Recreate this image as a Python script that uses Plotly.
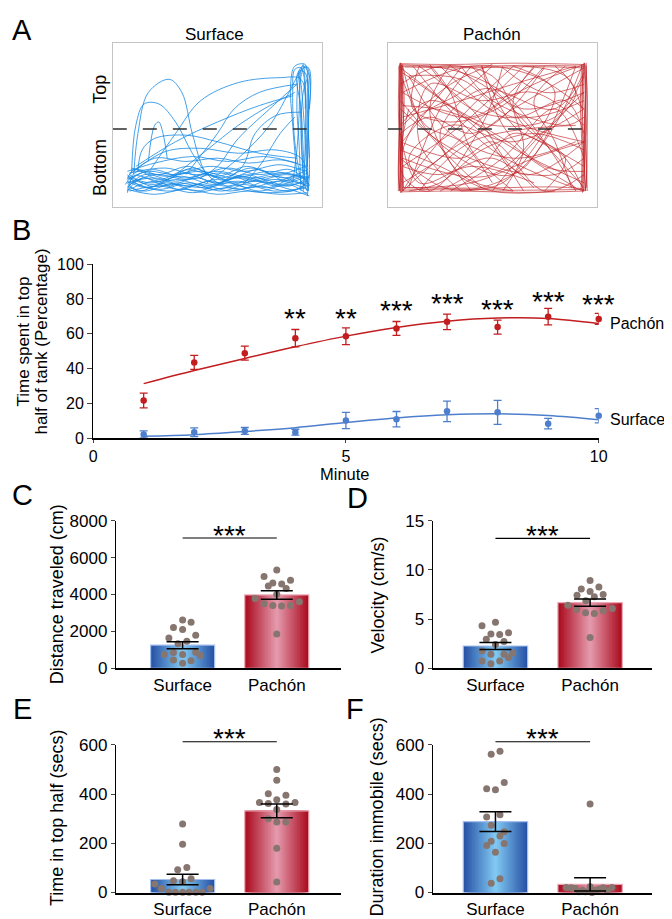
import plotly.graph_objects as go

W, H = 672, 919
FONT = "Liberation Sans, Arial, Helvetica, sans-serif"

# ---------------- Panel A: swim tracks (normalised tank coordinates) ----------------
tank_midline = 0.478
surface_tracks = [
    [(0.07,0.15),(0.2,0.18),(0.35,0.13),(0.5,0.17),(0.65,0.12),(0.8,0.16),(0.93,0.11)],
    [(0.93,0.13),(0.78,0.19),(0.6,0.15),(0.45,0.2),(0.3,0.16),(0.15,0.2),(0.07,0.12)],
    [(0.08,0.1),(0.22,0.13),(0.38,0.09),(0.55,0.12),(0.72,0.09),(0.9,0.12),(0.94,0.2)],
    [(0.92,0.18),(0.75,0.22),(0.58,0.18),(0.42,0.22),(0.25,0.19),(0.1,0.23),(0.07,0.17)],
    [(0.07,0.19),(0.18,0.15),(0.33,0.19),(0.48,0.14),(0.62,0.19),(0.78,0.13),(0.93,0.16)],
    [(0.93,0.09),(0.8,0.08),(0.65,0.1),(0.5,0.08),(0.35,0.11),(0.2,0.08),(0.07,0.11)],
    [(0.08,0.21),(0.25,0.24),(0.4,0.2),(0.55,0.24),(0.7,0.2),(0.85,0.23),(0.94,0.14)],
    [(0.94,0.07),(0.82,0.12),(0.68,0.16),(0.52,0.1),(0.37,0.15),(0.22,0.11),(0.08,0.16)],
    [(0.07,0.13),(0.15,0.1),(0.28,0.14),(0.44,0.12),(0.6,0.16),(0.74,0.12),(0.88,0.18),(0.93,0.1)],
    [(0.93,0.21),(0.83,0.16),(0.7,0.23),(0.53,0.17),(0.38,0.24),(0.24,0.16),(0.1,0.19),(0.07,0.09)],
    [(0.08,0.18),(0.17,0.22),(0.3,0.2),(0.46,0.25),(0.63,0.22),(0.8,0.26),(0.92,0.22)],
    [(0.92,0.12),(0.77,0.1),(0.63,0.14),(0.48,0.11),(0.32,0.15),(0.18,0.13),(0.08,0.2)],
    [(0.08,0.14),(0.2,0.2),(0.36,0.17),(0.51,0.21),(0.67,0.16),(0.83,0.2),(0.93,0.17)],
    [(0.93,0.15),(0.85,0.1),(0.7,0.13),(0.56,0.1),(0.42,0.14),(0.27,0.1),(0.12,0.14),(0.07,0.2)],
    [(0.07,0.16),(0.16,0.12),(0.3,0.17),(0.45,0.13),(0.6,0.18),(0.75,0.15),(0.9,0.19),(0.94,0.13)],
    [(0.94,0.18),(0.8,0.21),(0.66,0.18),(0.5,0.22),(0.34,0.18),(0.19,0.23),(0.08,0.17)],
    [(0.08,0.11),(0.2,0.16),(0.32,0.11),(0.47,0.16),(0.6,0.11),(0.76,0.17),(0.92,0.14)],
    [(0.93,0.19),(0.79,0.14),(0.64,0.2),(0.49,0.15),(0.34,0.21),(0.2,0.14),(0.07,0.18)],
    [(0.06,0.14),(0.12,0.22),(0.22,0.17),(0.36,0.23),(0.52,0.18),(0.66,0.24),(0.82,0.18),(0.93,0.23)],
    [(0.93,0.08),(0.84,0.14),(0.7,0.1),(0.55,0.15),(0.4,0.1),(0.26,0.15),(0.12,0.1),(0.07,0.15)],
    [(0.07,0.1),(0.14,0.18),(0.26,0.13),(0.4,0.18),(0.54,0.13),(0.69,0.18),(0.84,0.13),(0.93,0.18)],
    [(0.09,0.24),(0.22,0.2),(0.36,0.25),(0.5,0.19),(0.64,0.25),(0.78,0.2),(0.92,0.25)],
    [(0.08,0.2),(0.2,0.3),(0.35,0.28),(0.5,0.3),(0.65,0.27),(0.8,0.29),(0.92,0.25)],
    [(0.1,0.22),(0.25,0.34),(0.42,0.36),(0.6,0.33),(0.78,0.35),(0.9,0.3),(0.93,0.2)],
    [(0.07,0.22),(0.2,0.27),(0.38,0.31),(0.55,0.28),(0.72,0.31),(0.88,0.27)],
    [(0.92,0.12),(0.91,0.35),(0.9,0.6),(0.88,0.8),(0.91,0.86),(0.94,0.8),(0.935,0.5),(0.94,0.2),(0.93,0.07)],
    [(0.9,0.15),(0.87,0.4),(0.86,0.7),(0.87,0.84),(0.9,0.85),(0.92,0.7),(0.92,0.4),(0.91,0.1)],
    [(0.93,0.1),(0.92,0.4),(0.9,0.75),(0.89,0.83),(0.92,0.82),(0.93,0.6),(0.94,0.3)],
    [(0.88,0.2),(0.86,0.5),(0.85,0.75),(0.87,0.86),(0.92,0.87),(0.93,0.75)],
    [(0.91,0.2),(0.9,0.45),(0.91,0.7),(0.93,0.78),(0.935,0.55),(0.93,0.25)],
    [(0.9,0.1),(0.89,0.4),(0.88,0.65),(0.9,0.84),(0.93,0.85),(0.935,0.65),(0.93,0.35),(0.935,0.1)],
    [(0.93,0.12),(0.925,0.45),(0.92,0.75),(0.91,0.87),(0.895,0.8),(0.9,0.5),(0.91,0.2)],
    [(0.86,0.15),(0.88,0.35),(0.89,0.55),(0.9,0.8),(0.92,0.86),(0.94,0.84),(0.94,0.6)],
    [(0.1,0.2),(0.12,0.45),(0.17,0.7),(0.27,0.78),(0.33,0.7),(0.38,0.45),(0.44,0.22),(0.5,0.15)],
    [(0.18,0.23),(0.3,0.45),(0.42,0.65),(0.6,0.76),(0.8,0.79),(0.9,0.78),(0.92,0.6)],
    [(0.09,0.22),(0.11,0.5),(0.15,0.63),(0.22,0.63),(0.3,0.52),(0.38,0.33),(0.45,0.2)],
    [(0.17,0.28),(0.2,0.5),(0.22,0.52),(0.24,0.45),(0.26,0.3)],
    [(0.11,0.25),(0.3,0.4),(0.5,0.52),(0.7,0.62),(0.86,0.68)],
    [(0.3,0.2),(0.45,0.35),(0.6,0.5),(0.75,0.62),(0.87,0.7)],
    [(0.45,0.15),(0.6,0.3),(0.75,0.5),(0.85,0.72),(0.89,0.82)],
    [(0.88,0.75),(0.75,0.6),(0.6,0.42),(0.5,0.25),(0.42,0.18)],
    [(0.5,0.14),(0.62,0.25),(0.68,0.45),(0.78,0.56),(0.9,0.58)],
    [(0.12,0.22),(0.14,0.35),(0.2,0.42),(0.35,0.44),(0.5,0.4),(0.7,0.33),(0.88,0.3)],
    [(0.35,0.2),(0.5,0.45),(0.58,0.6),(0.7,0.7),(0.88,0.75)],
    [(0.62,0.14),(0.7,0.25),(0.8,0.45),(0.87,0.55)],
]
pachon_tracks = [
    [(0.055,0.10),(0.06,0.35),(0.05,0.6),(0.058,0.88)],
    [(0.062,0.88),(0.066,0.6),(0.06,0.3),(0.065,0.09)],
    [(0.07,0.1),(0.065,0.45),(0.07,0.7),(0.064,0.87)],
    [(0.052,0.86),(0.056,0.5),(0.05,0.2),(0.058,0.1)],
    [(0.075,0.12),(0.07,0.4),(0.078,0.65),(0.07,0.86)],
    [(0.06,0.09),(0.055,0.5),(0.062,0.87)],
    [(0.058,0.12),(0.062,0.4),(0.057,0.7),(0.06,0.88)],
    [(0.068,0.87),(0.063,0.55),(0.068,0.25),(0.062,0.1)],
    [(0.05,0.1),(0.053,0.45),(0.06,0.75),(0.055,0.87)],
    [(0.072,0.1),(0.068,0.3),(0.074,0.55),(0.066,0.87)],
    [(0.945,0.1),(0.94,0.4),(0.948,0.7),(0.942,0.88)],
    [(0.935,0.87),(0.93,0.55),(0.938,0.25),(0.932,0.09)],
    [(0.952,0.12),(0.955,0.5),(0.95,0.86)],
    [(0.925,0.1),(0.93,0.35),(0.922,0.6),(0.928,0.87)],
    [(0.94,0.88),(0.946,0.6),(0.94,0.3),(0.948,0.1)],
    [(0.938,0.1),(0.944,0.45),(0.936,0.75),(0.94,0.88)],
    [(0.95,0.88),(0.945,0.5),(0.952,0.2),(0.945,0.1)],
    [(0.93,0.12),(0.936,0.4),(0.93,0.7),(0.935,0.86)],
    [(0.955,0.1),(0.948,0.35),(0.955,0.65),(0.948,0.87)],
    [(0.06,0.875),(0.3,0.87),(0.6,0.878),(0.94,0.87)],
    [(0.94,0.86),(0.65,0.865),(0.35,0.858),(0.07,0.868)],
    [(0.08,0.855),(0.4,0.85),(0.7,0.857),(0.93,0.85)],
    [(0.06,0.095),(0.35,0.1),(0.65,0.092),(0.94,0.1)],
    [(0.94,0.11),(0.6,0.105),(0.3,0.112),(0.07,0.105)],
    [(0.08,0.12),(0.45,0.118),(0.8,0.125),(0.93,0.115)],
    [(0.06,0.85),(0.3,0.62),(0.6,0.36),(0.94,0.15)],
    [(0.94,0.6),(0.7,0.8),(0.4,0.86),(0.07,0.7)],
    [(0.06,0.3),(0.3,0.11),(0.6,0.2),(0.8,0.5),(0.93,0.86)],
    [(0.6,0.86),(0.35,0.55),(0.15,0.25),(0.07,0.1)],
    [(0.07,0.12),(0.4,0.15),(0.7,0.3),(0.94,0.4)],
    [(0.94,0.8),(0.8,0.55),(0.5,0.5),(0.2,0.65),(0.06,0.5)],
    [(0.07,0.86),(0.3,0.84),(0.55,0.7),(0.75,0.4),(0.9,0.1)],
    [(0.6,0.1),(0.4,0.35),(0.3,0.7),(0.2,0.87)],
    [(0.06,0.6),(0.25,0.4),(0.5,0.25),(0.8,0.2),(0.94,0.3)],
    [(0.94,0.7),(0.65,0.6),(0.45,0.75),(0.3,0.86)],
    [(0.1,0.6),(0.07,0.2),(0.2,0.1),(0.45,0.5),(0.55,0.86)],
    [(0.8,0.86),(0.9,0.7),(0.75,0.45),(0.55,0.15),(0.35,0.1)],
    [(0.35,0.1),(0.15,0.4),(0.2,0.75),(0.45,0.65),(0.7,0.7),(0.94,0.5)],
    [(0.94,0.2),(0.75,0.1),(0.5,0.4),(0.35,0.3),(0.06,0.4)],
    [(0.06,0.75),(0.25,0.86),(0.5,0.8),(0.65,0.5),(0.85,0.3),(0.94,0.1)],
    [(0.7,0.15),(0.4,0.25),(0.15,0.15),(0.06,0.45)],
    [(0.06,0.45),(0.2,0.55),(0.4,0.45),(0.6,0.6),(0.8,0.75),(0.94,0.85)],
    [(0.9,0.4),(0.6,0.3),(0.3,0.45),(0.1,0.8)],
    [(0.1,0.8),(0.35,0.78),(0.6,0.55),(0.85,0.65),(0.94,0.45)],
    [(0.8,0.1),(0.5,0.1),(0.25,0.25),(0.06,0.35)],
    [(0.06,0.65),(0.3,0.3),(0.45,0.12)],
    [(0.45,0.86),(0.55,0.5),(0.75,0.25),(0.94,0.22)],
    [(0.2,0.86),(0.4,0.6),(0.7,0.55),(0.94,0.65)],
    [(0.94,0.35),(0.7,0.45),(0.45,0.35),(0.25,0.15),(0.1,0.1)],
    [(0.15,0.86),(0.12,0.6),(0.3,0.52),(0.55,0.62),(0.75,0.86)],
    [(0.35,0.86),(0.5,0.65),(0.85,0.5),(0.94,0.55)],
    [(0.07,0.55),(0.35,0.65),(0.6,0.75),(0.9,0.86)],
    [(0.65,0.86),(0.85,0.8),(0.93,0.6)],
    [(0.25,0.1),(0.45,0.25),(0.6,0.45),(0.8,0.35),(0.94,0.25)],
    [(0.94,0.75),(0.75,0.7),(0.55,0.85)],
    [(0.07,0.25),(0.25,0.2),(0.5,0.3),(0.7,0.12)],
    [(0.1,0.12),(0.25,0.6),(0.4,0.86)],
    [(0.55,0.1),(0.65,0.35),(0.6,0.65),(0.7,0.86)],
    [(0.07,0.78),(0.18,0.5),(0.35,0.4),(0.5,0.15)],
    [(0.85,0.86),(0.7,0.65),(0.8,0.4),(0.88,0.12)],
    [(0.5,0.86),(0.35,0.7),(0.15,0.55),(0.07,0.35)],
    [(0.9,0.12),(0.7,0.28),(0.55,0.42),(0.3,0.58),(0.07,0.62)],
    [(0.07,0.5),(0.3,0.75),(0.5,0.87)],
    [(0.5,0.1),(0.7,0.4),(0.94,0.7)],
    [(0.2,0.1),(0.1,0.3),(0.3,0.5),(0.6,0.4),(0.94,0.6)],
    [(0.94,0.87),(0.7,0.75),(0.5,0.6),(0.25,0.3),(0.07,0.15)],
    [(0.3,0.87),(0.2,0.6),(0.35,0.2),(0.6,0.1)],
    [(0.07,0.7),(0.4,0.55),(0.7,0.85)],
    [(0.94,0.4),(0.65,0.2),(0.4,0.6),(0.15,0.86)],
    [(0.75,0.1),(0.85,0.3),(0.6,0.5),(0.45,0.86)],
    [(0.07,0.1),(0.3,0.35),(0.55,0.55),(0.75,0.85)],
    [(0.94,0.3),(0.8,0.6),(0.55,0.3),(0.3,0.1)],
    [(0.15,0.1),(0.4,0.4),(0.9,0.5)],
    [(0.07,0.82),(0.45,0.45),(0.65,0.1)],
    [(0.25,0.86),(0.55,0.55),(0.94,0.4)],
    [(0.94,0.12),(0.6,0.6),(0.4,0.86)],
    [(0.4,0.1),(0.25,0.45),(0.45,0.72),(0.8,0.6),(0.94,0.82)],
    [(0.07,0.3),(0.5,0.2),(0.8,0.7),(0.6,0.86)],
    [(0.9,0.86),(0.6,0.2),(0.2,0.45),(0.07,0.87)],
    [(0.12,0.86),(0.5,0.35),(0.94,0.1)],
    [(0.07,0.4),(0.35,0.85)],
    [(0.65,0.86),(0.35,0.5),(0.07,0.25)],
]

# ---------------- Panel B: time in top half per minute ----------------
minutes = [1, 2, 3, 4, 5, 6, 7, 8, 9, 10]
pachon_pct = [21.6, 43.5, 48.8, 57.4, 58.5, 63.0, 66.8, 63.8, 69.8, 68.5]
pachon_pct_sem = [4.2, 4.0, 4.0, 5.0, 4.8, 4.0, 4.5, 4.0, 4.7, 3.2]
pachon_fit = [31.3, 38.8, 45.8, 52.5, 58.6, 63.6, 67.2, 69.0, 68.8, 65.9]
surface_pct = [2.1, 3.4, 4.1, 3.4, 10.1, 10.9, 15.4, 14.8, 8.3, 12.8]
surface_pct_sem = [2.0, 2.5, 2.0, 1.7, 4.7, 4.4, 5.9, 6.9, 3.0, 4.1]
surface_fit = [1.1, 2.0, 3.8, 6.0, 9.0, 11.6, 13.4, 14.0, 13.0, 10.6]
star_minutes = [4, 5, 6, 7, 8, 9, 10]
star_text = ["**", "**", "***", "***", "***", "***", "***"]
star_level = [72.2, 72.2, 76.9, 81.0, 77.8, 82.5, 80.6]

# ---------------- Panels C-F ----------------
groups = ["Surface", "Pachón"]

dist_mean = [1250, 3975]
dist_sem = [186, 228]
dist_surface = [2617, 2495, 2212, 2106, 1645, 1787, 1327, 1469, 743, 849, 743, 867, 690, 443, 265, 407]
dist_surface_jit = [0, 0.09, -0.097, 0, -0.146, 0.139, -0.049, 0.045, -0.195, -0.097, 0, 0.139, 0.1875, -0.097, 0, 0.09]
dist_pachon = [5325, 4973, 4777, 4618, 4565, 4459, 4317, 4016, 3786, 3503, 3397, 3379, 3397, 3609, 1858]
dist_pachon_jit = [0, -0.135, 0.146, -0.042, 0.052, -0.09, 0.1, 0, -0.229, -0.135, -0.042, 0.052, 0.146, 0.24, 0]
dist_sig = 7060

vel_mean = [2.26, 6.67]
vel_sem = [0.35, 0.38]
vel_surface = [4.31, 4.68, 3.48, 3.42, 3.62, 2.95, 2.42, 2.72, 1.76, 1.43, 1.43, 1.09, 1.56, 0.73, 0.46, 0.73]
vel_surface_jit = [-0.142, 0, -0.048, 0.045, 0.138, -0.097, 0, 0.09, -0.142, -0.048, 0.09, 0.138, 0.183, -0.142, -0.048, 0.045]
vel_pachon = [8.93, 8.06, 8.26, 7.8, 7.43, 7.27, 7.5, 6.87, 6.4, 5.97, 5.64, 5.57, 5.84, 6.07, 3.12]
vel_pachon_jit = [0, -0.093, 0.093, 0, -0.138, 0.045, 0.138, -0.045, -0.235, -0.142, -0.048, 0.045, 0.138, 0.235, 0]
vel_sig = 13.2

top_mean = [53, 332]
top_sem = [21, 28]
top_surface = [278.7, 196.4, 92.9, 102.2, 47.8, 43.8, 55.7, 34.5, 15.9, 1, 1, 1, 1, 1, 1, 15.9]
top_surface_jit = [0, 0, -0.052, 0.045, -0.097, 0, 0.09, -0.295, -0.226, -0.146, -0.076, 0, 0.069, 0.139, 0.208, 0.292]
top_pachon = [500.3, 456.5, 402, 395.4, 377, 366.3, 362.3, 359.6, 366.3, 337, 299.9, 286.6, 286.6, 180.4, 42.5]
top_pachon_jit = [0, 0, -0.09, 0.097, 0, -0.184, -0.09, 0.097, 0.194, 0, -0.09, 0, 0.097, 0, 0]
top_sig = 613

immob_mean = [288, 33]
immob_sem = [40, 27]
immob_surface = [562.6, 574.6, 447.1, 422, 418, 306.5, 315.8, 273.4, 246.8, 229.6, 208.4, 191.1, 199, 163.2, 37.2, 55.7]
immob_surface_jit = [-0.045, 0.048, 0.093, -0.093, 0, -0.093, 0.048, -0.045, 0.093, 0.048, -0.045, -0.093, 0.093, 0, -0.045, 0.048]
immob_pachon = [359.6, 20, 16, 9, 23, 9, 19, 20, 3, 0, 3, 19, 12, 6]
immob_pachon_jit = [0, -0.252, -0.159, -0.079, 0, 0.048, 0.138, 0.231, -0.05, 0.02, -0.12, -0.2, 0.09, 0.18]
immob_sig = 613

# ---------------- helpers ----------------
def fx(p):
    return p / W

def fy(p):
    return 1 - p / H

def flatten(tracks):
    xs, ys = [], []
    for s in tracks:
        xs += [p[0] for p in s] + [None]
        ys += [p[1] for p in s] + [None]
    return xs, ys

def lerp(c1, c2, t):
    return "rgb(%d,%d,%d)" % tuple(round(a + (b - a) * t) for a, b in zip(c1, c2))

BLUE_EDGE, BLUE_MID, BLUE_LINE = (40, 82, 165), (128, 200, 242), "#a3bff0"
RED_EDGE, RED_MID, RED_LINE = (170, 12, 30), (228, 152, 172), "#eca6b6"
DOT = "#86766f"
B_RED, B_BLUE = "#c21d1f", "#4e7fcc"

fig = go.Figure()

# ---- Panel A ----
for tracks, col, xa, ya in [(surface_tracks, "rgba(24,138,228,0.8)", "x", "y"),
                            (pachon_tracks, "rgba(188,28,32,0.62)", "x2", "y2")]:
    xs, ys = flatten(tracks)
    fig.add_trace(go.Scatter(x=xs, y=ys, mode="lines", xaxis=xa, yaxis=ya,
                             line=dict(color=col, width=1.0, shape="spline", smoothing=1.0),
                             hoverinfo="skip", showlegend=False))
    fig.add_trace(go.Scatter(x=[0, 1], y=[tank_midline, tank_midline], mode="lines", xaxis=xa, yaxis=ya,
                             line=dict(color="#2e2e2e", width=1.6, dash="14px,16px"),
                             hoverinfo="skip", showlegend=False))

# ---- Panel B ----
for mean, sem, fit, col in [(pachon_pct, pachon_pct_sem, pachon_fit, B_RED),
                            (surface_pct, surface_pct_sem, surface_fit, B_BLUE)]:
    fig.add_trace(go.Scatter(x=minutes, y=fit, mode="lines", xaxis="x3", yaxis="y3",
                             line=dict(color=col, width=1.5, shape="spline", smoothing=1.0),
                             hoverinfo="skip", showlegend=False))
    fig.add_trace(go.Scatter(x=minutes, y=mean, mode="markers", xaxis="x3", yaxis="y3",
                             marker=dict(color=col, size=6.5),
                             error_y=dict(type="data", array=sem, color=col, thickness=1.3, width=4),
                             cliponaxis=False, hoverinfo="skip", showlegend=False))

# ---- Panels C-F ----
bar_panels = [
    ("x4", "y4", dist_mean, dist_sem, [(dist_surface, dist_surface_jit), (dist_pachon, dist_pachon_jit)]),
    ("x5", "y5", vel_mean, vel_sem, [(vel_surface, vel_surface_jit), (vel_pachon, vel_pachon_jit)]),
    ("x6", "y6", top_mean, top_sem, [(top_surface, top_surface_jit), (top_pachon, top_pachon_jit)]),
    ("x7", "y7", immob_mean, immob_sem, [(immob_surface, immob_surface_jit), (immob_pachon, immob_pachon_jit)]),
]
BAR_W = 0.68
NLAY = 22
for xa, ya, mean, sem, dots in bar_panels:
    for gi, (edge, mid, outline) in enumerate([(BLUE_EDGE, BLUE_MID, BLUE_LINE), (RED_EDGE, RED_MID, RED_LINE)]):
        for k in range(NLAY):
            t = k / (NLAY - 1)
            fig.add_trace(go.Bar(x=[gi], y=[mean[gi]], width=[BAR_W * (1 - k / NLAY)], xaxis=xa, yaxis=ya,
                                 marker=dict(color=lerp(edge, mid, t), line=dict(width=0)),
                                 hoverinfo="skip", showlegend=False))
        fig.add_trace(go.Bar(x=[gi], y=[mean[gi]], width=[BAR_W], xaxis=xa, yaxis=ya,
                             marker=dict(color="rgba(0,0,0,0)", line=dict(width=1.2, color=outline)),
                             hoverinfo="skip", showlegend=False))
    for gi, (vals, jit) in enumerate(dots):
        fig.add_trace(go.Scatter(x=[gi + j for j in jit], y=vals, mode="markers", xaxis=xa, yaxis=ya,
                                 marker=dict(color=DOT, size=7), cliponaxis=False,
                                 hoverinfo="skip", showlegend=False))
    fig.add_trace(go.Scatter(x=[0, 1], y=mean, mode="markers", xaxis=xa, yaxis=ya,
                             marker=dict(color="rgba(0,0,0,0)", size=1),
                             error_y=dict(type="data", array=sem, color="black", thickness=1.5, width=16),
                             cliponaxis=False, hoverinfo="skip", showlegend=False))

# ---------------- layout ----------------
ax_box = dict(range=[0, 1], showline=True, mirror=True, linecolor="#c4c4c4", linewidth=1,
              showticklabels=False, ticks="", showgrid=False, zeroline=False, fixedrange=True)

A_Y = [fy(194.5), fy(26.7)]
layout = dict(
    width=W, height=H, margin=dict(l=0, r=0, t=0, b=0),
    paper_bgcolor="white", plot_bgcolor="white", showlegend=False, barmode="overlay",
    hovermode=False, font=dict(family=FONT, color="black", size=17),
    xaxis=dict(domain=[fx(102.8), fx(316.1)], anchor="y", **ax_box),
    yaxis=dict(domain=A_Y, anchor="x", **ax_box),
    xaxis2=dict(domain=[fx(383.3), fx(596.2)], anchor="y2", **ax_box),
    yaxis2=dict(domain=A_Y, anchor="x2", **ax_box),
    xaxis3=dict(domain=[fx(82.7), fx(598.3)], anchor="y3", range=[0, 10], tickvals=[0, 5, 10],
                ticks="outside", ticklen=3, tickwidth=1.2, showline=True, linewidth=2, linecolor="black",
                showgrid=False, zeroline=False, tickfont=dict(size=16)),
    yaxis3=dict(domain=[fy(430), fy(252.3)], anchor="x3", range=[0, 100], tickvals=[0, 20, 40, 60, 80, 100],
                ticks="outside", ticklen=5, tickwidth=1.2, showline=True, linewidth=1.2, linecolor="black",
                showgrid=False, zeroline=False, tickfont=dict(size=16)),
)

bar_x = {"x4": ([fx(106), fx(335)], [-0.708, 1.677]),
         "x5": ([fx(429), fx(653)], [-0.663, 1.658]),
         "x6": ([fx(106), fx(335)], [-0.708, 1.677]),
         "x7": ([fx(429), fx(653)], [-0.663, 1.658])}
bar_y = {"y4": ([fy(665), fy(514.3)], [0, 8000], [0, 2000, 4000, 6000, 8000]),
         "y5": ([fy(665), fy(514.3)], [0, 15], [0, 5, 10, 15]),
         "y6": ([fy(894), fy(743.3)], [0, 600], [0, 200, 400, 600]),
         "y7": ([fy(894), fy(743.3)], [0, 600], [0, 200, 400, 600])}
for i in range(4, 8):
    d, r = bar_x["x%d" % i]
    layout["xaxis%d" % i] = dict(domain=d, range=r, anchor="y%d" % i, tickvals=[0, 1], ticktext=groups,
                                 ticks="", showline=True, linewidth=2, linecolor="black", showgrid=False,
                                 zeroline=False, tickfont=dict(size=17), ticklabelstandoff=0)
    d, r, tv = bar_y["y%d" % i]
    layout["yaxis%d" % i] = dict(domain=d, range=r, anchor="x%d" % i, tickvals=tv, ticks="outside",
                                 ticklen=4, tickwidth=1.2, showline=True, linewidth=1.2, linecolor="black",
                                 showgrid=False, zeroline=False, tickfont=dict(size=17))

fig.update_layout(**layout)

# significance bars
shapes = []
annotations = []
for (xa, ya, _, _, _), sig in zip(bar_panels, [dist_sig, vel_sig, top_sig, immob_sig]):
    r = bar_x[xa][1]
    ymax = bar_y[ya][1][1]
    def xdom(v):
        return (v - r[0]) / (r[1] - r[0])
    shapes.append(dict(type="line", xref=xa + " domain", yref=ya + " domain",
                       x0=xdom(0), x1=xdom(1), y0=sig / ymax, y1=sig / ymax,
                       line=dict(color="black", width=1.2)))
    annotations.append(dict(text="***", xref=xa + " domain", yref=ya + " domain", x=xdom(0.5), y=sig / ymax,
                            showarrow=False, yanchor="middle", yshift=3, font=dict(size=28)))

for m, t, lv in zip(star_minutes, star_text, star_level):
    annotations.append(dict(text=t, xref="x3", yref="y3", x=m, y=lv, showarrow=False,
                            yanchor="middle", yshift=-6.5, font=dict(size=28)))
annotations.append(dict(text="Pachón", xref="x3", yref="y3", x=10, y=pachon_fit[-1], xshift=9,
                        xanchor="left", yanchor="middle", showarrow=False, font=dict(size=16)))
annotations.append(dict(text="Surface", xref="x3", yref="y3", x=10, y=surface_fit[-1], xshift=9,
                        xanchor="left", yanchor="middle", showarrow=False, font=dict(size=16)))

def ptext(text, x, y, size, angle=0, xanchor="center"):
    annotations.append(dict(text=text, xref="paper", yref="paper", x=fx(x), y=fy(y), showarrow=False,
                            xanchor=xanchor, yanchor="middle", textangle=angle, font=dict(size=size)))

for letter, x, y in [("A", 10.5, 13), ("B", 9.5, 218), ("C", 11, 488), ("D", 352, 491),
                     ("E", 11, 707), ("F", 349.5, 707)]:
    ptext(letter, x, y, 29)
ptext("Surface", 207, 18, 17)
ptext("Pachón", 489.5, 18, 17)
ptext("Top", 90, 74, 18, -90)
ptext("Bottom", 90, 154, 18, -90)
ptext("Time spent in top", 11.5, 331, 17, -90)
ptext("half of tank (Percentage)", 30, 331, 17, -90)
ptext("Minute", 340, 467, 16.5)
ptext("Distance traveled (cm)", 45.8, 589.5, 18, -90)
ptext("Velocity (cm/s)", 373, 590, 18, -90)
ptext("Time in top half (secs)", 45.8, 818, 18, -90)
ptext("Duration immobile (secs)", 372.5, 817, 18, -90)

fig.update_layout(shapes=shapes, annotations=annotations)
fig.write_html("out.html")
